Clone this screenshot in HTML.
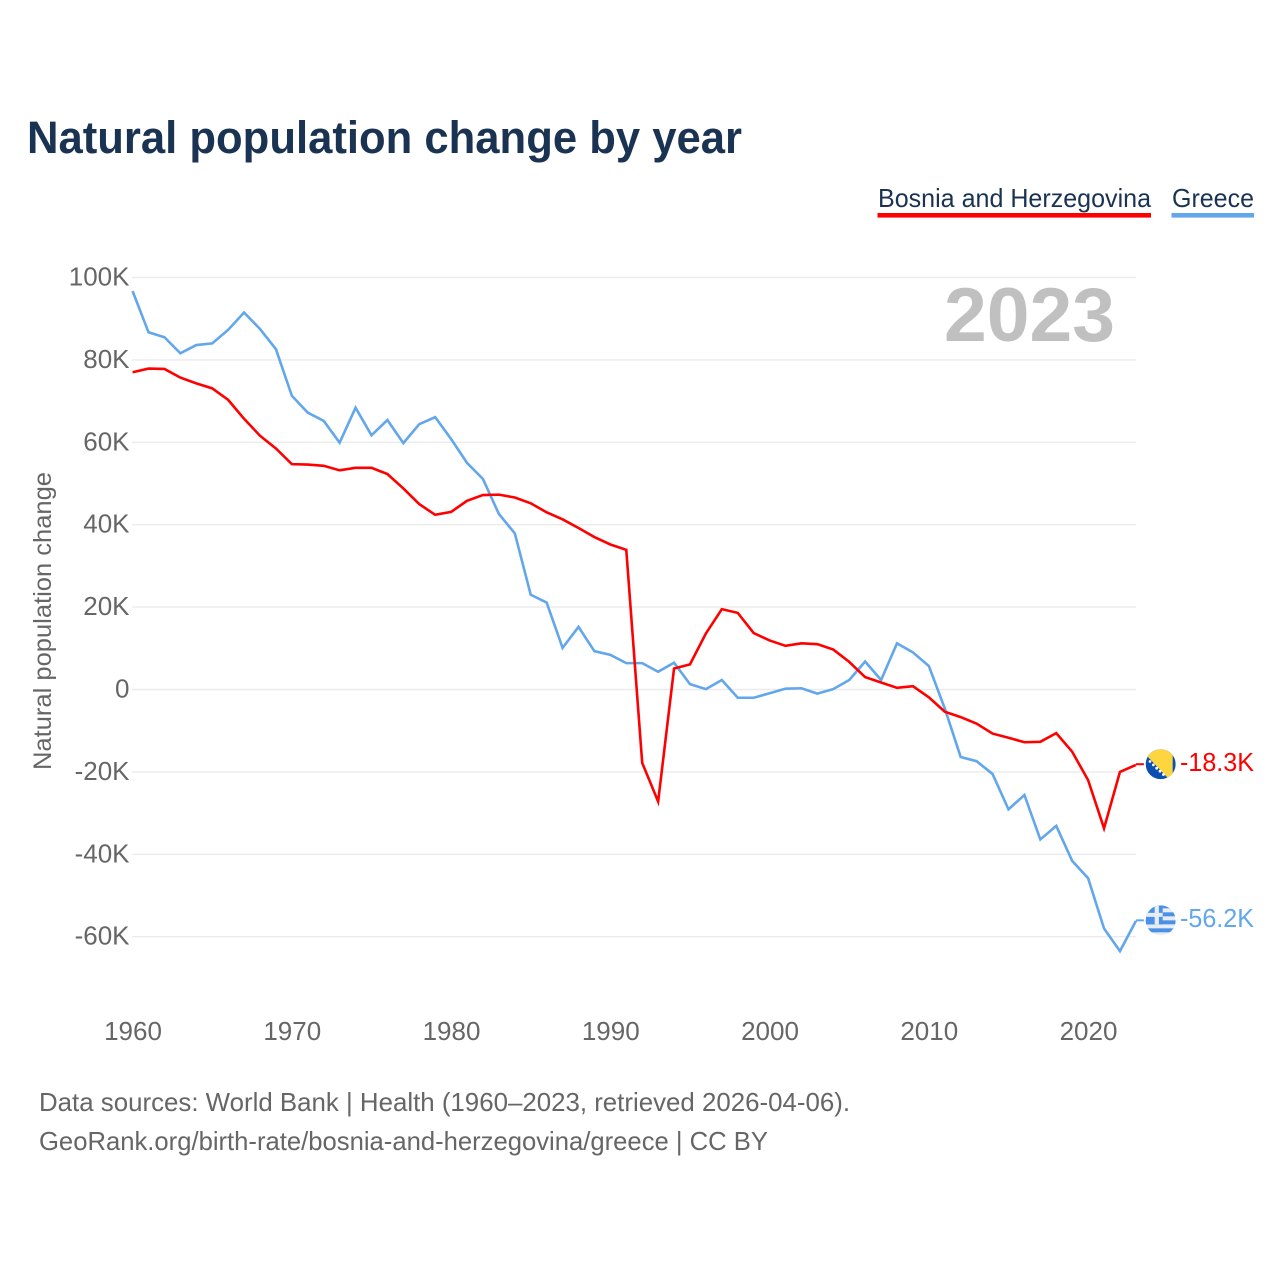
<!DOCTYPE html>
<html lang="en">
<head>
<meta charset="utf-8">
<title>Natural population change by year</title>
<style>
html,body{margin:0;padding:0;background:#fff;}
svg{display:block;font-family:"Liberation Sans",sans-serif;}
</style>
</head>
<body>
<svg id="chart" xmlns="http://www.w3.org/2000/svg" width="1280" height="1280" viewBox="0 0 1280 1280">
  <rect x="0" y="0" width="1280" height="1280" fill="#ffffff"/>
  <text x="27" y="153" font-size="45" font-weight="700" fill="#1a3352" textLength="715" lengthAdjust="spacingAndGlyphs">Natural population change by year</text>

  <g>
    <text x="878" y="207" font-size="26" fill="#1a3352" textLength="273" lengthAdjust="spacingAndGlyphs">Bosnia and Herzegovina</text>
    <rect x="877.5" y="213" width="273.5" height="4.6" fill="#ff0000"/>
  </g>
  <g>
    <text x="1172" y="207" font-size="26" fill="#1a3352" textLength="82" lengthAdjust="spacingAndGlyphs">Greece</text>
    <rect x="1171.5" y="213" width="82.5" height="4.6" fill="#62a6ec"/>
  </g>

  <g id="grid"></g>
  <g id="yticks"></g>
  <g id="xticks"></g>

  <text transform="translate(51,621) rotate(-90)" text-anchor="middle" font-size="25" fill="#666666" textLength="298" lengthAdjust="spacingAndGlyphs">Natural population change</text>
  <text x="944" y="341" font-size="76" font-weight="700" fill="#c0c0c0" textLength="171" lengthAdjust="spacingAndGlyphs">2023</text>

  <g id="series"></g>

  <defs>
    <clipPath id="flag-clip"><circle cx="0" cy="0" r="15"/></clipPath>
  </defs>

  <g id="flag-bosnia" clip-path="url(#flag-clip)">
    <rect x="-15" y="-15" width="30" height="30" fill="#0b4fb0"/>
    <polygon points="-20,-15 12,-15 12,19" fill="#fdd53f"/>
    <g fill="#ffffff">
      <circle cx="-10.7" cy="-2.7" r="1.4"/><circle cx="-7.3" cy="0.7" r="1.4"/><circle cx="-4" cy="4" r="1.4"/>
      <circle cx="-0.7" cy="7" r="1.4"/><circle cx="2.7" cy="10.3" r="1.4"/>
    </g>
  </g>
  <g id="flag-greece" clip-path="url(#flag-clip)">
    <rect x="-15" y="-15" width="30" height="30" fill="#e8edf3"/>
    <rect x="-15" y="-15" width="30" height="3" fill="#4a90e8"/>
    <rect x="-15" y="-8" width="30" height="4" fill="#4a90e8"/>
    <rect x="-15" y="0" width="30" height="4" fill="#4a90e8"/>
    <rect x="-15" y="8" width="30" height="4" fill="#4a90e8"/>
    <rect x="-15" y="-15" width="17" height="19" fill="#4a90e8"/>
    <rect x="-6" y="-15" width="4.2" height="19" fill="#e8edf3"/>
    <rect x="-15" y="-7.5" width="17" height="4" fill="#e8edf3"/>
  </g>

  <text x="39" y="1111" font-size="26" fill="#666666" textLength="811" lengthAdjust="spacingAndGlyphs">Data sources: World Bank | Health (1960–2023, retrieved 2026-04-06).</text>
  <text x="39" y="1150" font-size="26" fill="#666666" textLength="729" lengthAdjust="spacingAndGlyphs">GeoRank.org/birth-rate/bosnia-and-herzegovina/greece | CC BY</text>
</svg>
<script>
const years = [1960,1961,1962,1963,1964,1965,1966,1967,1968,1969,1970,1971,1972,1973,1974,1975,1976,1977,1978,1979,1980,1981,1982,1983,1984,1985,1986,1987,1988,1989,1990,1991,1992,1993,1994,1995,1996,1997,1998,1999,2000,2001,2002,2003,2004,2005,2006,2007,2008,2009,2010,2011,2012,2013,2014,2015,2016,2017,2018,2019,2020,2021,2022,2023];
const bosniaValues = [77.0,77.9,77.8,75.7,74.3,73.1,70.3,65.7,61.6,58.5,54.7,54.6,54.3,53.2,53.8,53.8,52.3,48.8,45.0,42.4,43.1,45.8,47.2,47.3,46.6,45.2,43.0,41.3,39.2,37.0,35.2,33.9,-17.8,-27.2,5.1,6.1,13.6,19.5,18.6,13.7,11.9,10.6,11.2,11.0,9.7,6.7,3.0,1.7,0.4,0.8,-1.9,-5.4,-6.7,-8.3,-10.7,-11.7,-12.8,-12.7,-10.6,-15.1,-22.0,-33.7,-20.0,-18.3];
const greeceValues = [96.7,86.7,85.5,81.6,83.6,84.0,87.3,91.5,87.5,82.6,71.3,67.2,65.2,59.9,68.4,61.7,65.4,59.8,64.4,66.1,60.8,55.0,51.1,42.6,37.9,23.0,21.1,10.1,15.2,9.3,8.4,6.4,6.4,4.3,6.5,1.3,0.1,2.3,-2.0,-2.0,-0.9,0.2,0.3,-1.0,0.1,2.3,6.8,2.3,11.2,9.0,5.7,-4.6,-16.4,-17.4,-20.5,-29.1,-25.6,-36.4,-33.1,-41.6,-45.8,-58.0,-63.5,-56.2];
const yTickValues = [100,80,60,40,20,0,-20,-40,-60];
const yTickLabels = ["100K","80K","60K","40K","20K","0","-20K","-40K","-60K"];
const xTickYears = [1960,1970,1980,1990,2000,2010,2020];
const endLabels = ["-18.3K","-56.2K"];

const NS = 'http://www.w3.org/2000/svg';
const BLUE = '#62a6ec';
const RED = '#ff0000';
function xScale(year){ return 132.6 + (year - 1960) * 15.925; }
function yScale(v){ return 689.5 - v * 4.12; }
function make(tag, attrs, parent){
  const el = document.createElementNS(NS, tag);
  for (const k in attrs) el.setAttribute(k, attrs[k]);
  parent.appendChild(el);
  return el;
}

const gridG = document.getElementById('grid');
const yG = document.getElementById('yticks');
const xG = document.getElementById('xticks');
const seriesG = document.getElementById('series');
const svgRoot = document.getElementById('chart');

yTickValues.forEach(function(v, i){
  const line = make('line', {x1:132, x2:1136, y1:yScale(v), y2:yScale(v), stroke:'#ebebeb', 'stroke-width':1.4}, gridG);
  
  
  const t = make('text', {x:129.5, y:yScale(v)+8, 'text-anchor':'end', 'font-size':26, fill:'#666666'}, yG);
  
  
  t.textContent = yTickLabels[i];
});

xTickYears.forEach(function(yr){
  const t = make('text', {x:xScale(yr)+0.4, y:1040, 'text-anchor':'middle', 'font-size':26, fill:'#666666'}, xG);
  
  
  t.textContent = yr;
});

function drawSeries(values, color, lineName, stubName, labelName, flagId, labelText){
  const pts = values.map(function(v, i){ return xScale(years[i]).toFixed(2) + ',' + yScale(v).toFixed(2); }).join(' ');
  const line = make('polyline', {points:pts, fill:'none', stroke:color, 'stroke-width':2.6, 'stroke-linejoin':'miter'}, seriesG);
  
  
  const lastY = yScale(values[values.length - 1]);
  const lastX = xScale(years[years.length - 1]);
  const stub = make('line', {x1:lastX, x2:lastX + 8, y1:lastY - 0.7, y2:lastY - 0.7, stroke:color, 'stroke-width':2}, seriesG);
  
  
  document.getElementById(flagId).setAttribute('transform', 'translate(' + (lastX + 24.8) + ',' + (lastY - 0.7) + ')');
  const label = make('text', {x:1180, y:lastY + 6, 'font-size':26, fill:color, textLength:74, lengthAdjust:'spacingAndGlyphs'}, svgRoot);
  
  
  label.textContent = labelText;
}

drawSeries(greeceValues, BLUE, 'greece-line', 'greece-end-connector', 'greece-end-label', 'flag-greece', endLabels[1]);
drawSeries(bosniaValues, RED, 'bosnia-line', 'bosnia-end-connector', 'bosnia-end-label', 'flag-bosnia', endLabels[0]);
</script>
</body>
</html>
